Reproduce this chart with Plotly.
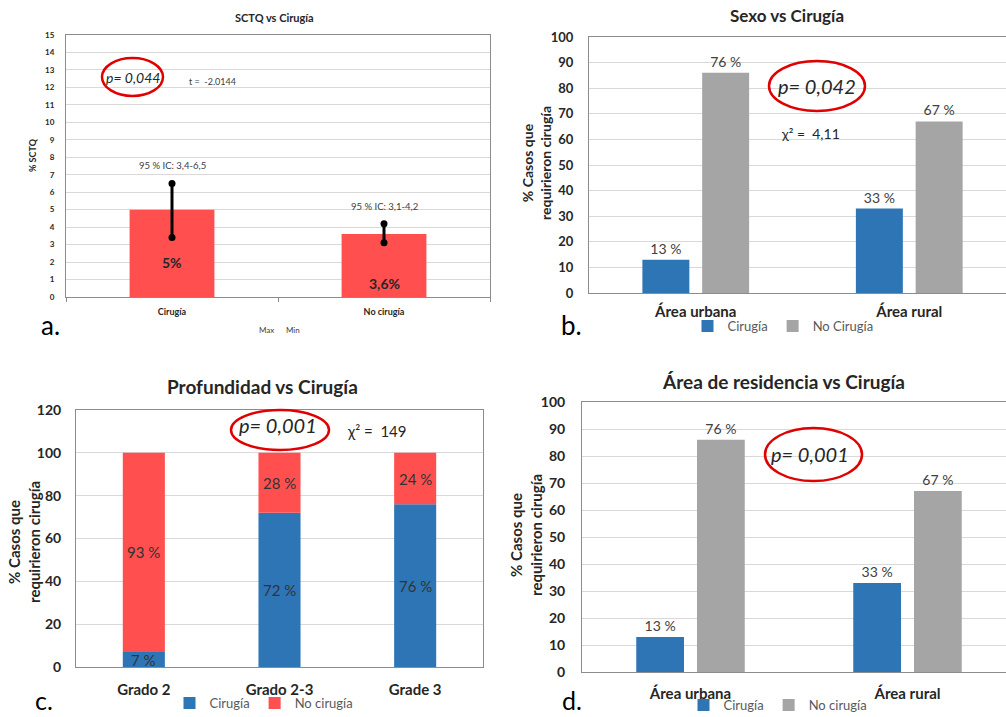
import plotly.graph_objects as go

W, H = 1006, 717
FONT = "Lato"
RED = "#FF4F4F"
BLUE = "#2E75B6"
GRAY = "#A5A5A5"
DARK = "#262626"
TXT = "#404040"
ELL = "#E00000"

# ---------------- data ----------------
# Panel a
a_categories = ["Cirugía", "No cirugía"]
a_values = [5.0, 3.6]
a_ci_low = [3.4, 3.1]
a_ci_high = [6.5, 4.2]
a_value_labels = ["5%", "3,6%"]
a_ci_labels = ["95 % IC: 3,4-6,5", "95 % IC: 3,1-4,2"]

# Panel b
b_categories = ["Área urbana", "Área rural"]
b_cirugia = [13, 33]
b_no_cirugia = [86, 67]
b_cirugia_labels = ["13 %", "33 %"]
b_no_cirugia_labels = ["76 %", "67 %"]

# Panel c
c_categories = ["Grado 2", "Grado 2-3", "Grade 3"]
c_cirugia = [7, 72, 76]
c_no_cirugia = [93, 28, 24]
c_cirugia_labels = ["7 %", "72 %", "76 %"]
c_no_cirugia_labels = ["93 %", "28 %", "24 %"]

# Panel d
d_categories = ["Área urbana", "Área rural"]
d_cirugia = [13, 33]
d_no_cirugia = [86, 67]
d_cirugia_labels = ["13 %", "33 %"]
d_no_cirugia_labels = ["76 %", "67 %"]


def px(x):
    return x / W


def py(y):
    return 1 - y / H


fig = go.Figure()

# ---------------- panel a ----------------
fig.add_trace(go.Bar(x=a_categories, y=a_values, width=0.4, marker=dict(color=RED, line_width=0),
                     xaxis="x", yaxis="y", showlegend=False, hoverinfo="skip"))
for cat, lo, hi in zip(a_categories, a_ci_low, a_ci_high):
    fig.add_trace(go.Scatter(x=[cat, cat], y=[lo, hi], mode="lines+markers",
                             line=dict(color="black", width=3), marker=dict(color="black", size=7),
                             xaxis="x", yaxis="y", showlegend=False, hoverinfo="skip"))

# ---------------- panel b ----------------
fig.add_trace(go.Bar(x=b_categories, y=b_cirugia, width=0.22, offset=-0.25, name="Cirugía",
                     marker=dict(color=BLUE, line_width=0), text=b_cirugia_labels, textposition="outside",
                     textfont=dict(size=14, color=TXT, family=FONT), cliponaxis=False,
                     xaxis="x2", yaxis="y2", legend="legend", hoverinfo="skip"))
fig.add_trace(go.Bar(x=b_categories, y=b_no_cirugia, width=0.22, offset=0.03, name="No Cirugía",
                     marker=dict(color=GRAY, line_width=0), text=b_no_cirugia_labels, textposition="outside",
                     textfont=dict(size=14, color=TXT, family=FONT), cliponaxis=False,
                     xaxis="x2", yaxis="y2", legend="legend", hoverinfo="skip"))

# ---------------- panel c ----------------
fig.add_trace(go.Bar(x=c_categories, y=c_cirugia, width=0.31, name="Cirugía",
                     marker=dict(color=BLUE, line_width=0),
                     xaxis="x3", yaxis="y3", legend="legend2", hoverinfo="skip"))
fig.add_trace(go.Bar(x=c_categories, y=c_no_cirugia, base=c_cirugia, width=0.31, name="No cirugía",
                     marker=dict(color=RED, line_width=0),
                     xaxis="x3", yaxis="y3", legend="legend2", hoverinfo="skip"))

# ---------------- panel d ----------------
fig.add_trace(go.Bar(x=d_categories, y=d_cirugia, width=0.22, offset=-0.25, name="Cirugía",
                     marker=dict(color=BLUE, line_width=0), text=d_cirugia_labels, textposition="outside",
                     textfont=dict(size=14, color=TXT, family=FONT), cliponaxis=False,
                     xaxis="x4", yaxis="y4", legend="legend3", hoverinfo="skip"))
fig.add_trace(go.Bar(x=d_categories, y=d_no_cirugia, width=0.22, offset=0.03, name="No cirugía",
                     marker=dict(color=GRAY, line_width=0), text=d_no_cirugia_labels, textposition="outside",
                     textfont=dict(size=14, color=TXT, family=FONT), cliponaxis=False,
                     xaxis="x4", yaxis="y4", legend="legend3", hoverinfo="skip"))

GRID = "#D9D9D9"
LINE = "#8C8C8C"


def yax(dom, rng, dtick, size, standoff):
    return dict(domain=[py(dom[1]), py(dom[0])], range=rng, dtick=dtick, showgrid=True, gridcolor=GRID,
                gridwidth=1, zeroline=False, showline=True, linecolor=LINE, linewidth=1,
                tickfont=dict(family=FONT, size=size, color=DARK, weight="bold"),
                ticks="", ticklabelstandoff=standoff, fixedrange=True, automargin=False)


def xax(dom, rng, size, standoff, anchor, mirror):
    return dict(domain=[px(dom[0]), min(px(dom[1]), 1)], range=rng, type="category", anchor=anchor,
                showgrid=False, zeroline=False, showline=True, linecolor=LINE, linewidth=1, mirror=mirror,
                tickfont=dict(family=FONT, size=size, color=DARK, weight="bold"),
                ticks="", ticklabelstandoff=standoff, fixedrange=True, automargin=False)


annotations = []
shapes = []


def note(text, x, y, size, color=DARK, bold=False, italic=False, angle=0, xanchor="center", yanchor="middle"):
    annotations.append(dict(text=text, x=px(x), y=py(y), xref="paper", yref="paper", showarrow=False,
                            xanchor=xanchor, yanchor=yanchor, textangle=angle,
                            font=dict(family=FONT, size=size, color=color,
                                      weight="bold" if bold else "normal",
                                      style="italic" if italic else "normal")))


def ellipse(x0, y0, x1, y1):
    shapes.append(dict(type="circle", xref="paper", yref="paper", x0=px(x0), x1=px(x1), y0=py(y1), y1=py(y0),
                       line=dict(color=ELL, width=2.5), fillcolor="rgba(0,0,0,0)", layer="above"))


# panel a annotations
for cat, hi, lab in zip(a_categories, a_ci_high, a_ci_labels):
    annotations.append(dict(text=lab, x=cat, y=hi + 1, xref="x", yref="y", showarrow=False,
                            font=dict(family=FONT, size=9.5, color=TXT)))
for cat, yv, lab in zip(a_categories, [2.0, 0.75], a_value_labels):
    annotations.append(dict(text=lab, x=cat, y=yv, xref="x", yref="y", showarrow=False,
                            font=dict(family=FONT, size=14, color=DARK, weight="bold")))
note("SCTQ vs Cirugía", 274, 18, 11, bold=True)
note("% SCTQ", 32, 155, 9, bold=True, angle=-90)
note("p= 0,044", 133, 78, 14, color=DARK, italic=True)
ellipse(102, 58, 163, 96)
note("t =  -2.0144", 212, 82, 9, color=TXT)
note("Max", 266, 330, 8, color=TXT)
note("Min", 293, 330, 8, color=TXT)
note("a.", 50, 325, 26, color="black")

# panel b annotations
note("Sexo vs Cirugía", 787, 16, 17, bold=True)
note("% Casos que<br>requirieron cirugía", 536, 163, 14, bold=True, angle=-90)
note("p= 0,042", 817, 86, 20, color=DARK, italic=True)
ellipse(769, 61, 865, 111)
note("χ² =  4,11", 810, 133, 14, color=DARK)
note("b.", 571, 325, 26, color="black")

# panel c annotations
for cat, v1, v2, l1, l2 in zip(c_categories, c_cirugia, c_no_cirugia, c_cirugia_labels, c_no_cirugia_labels):
    annotations.append(dict(text=l1, x=cat, y=v1 / 2, xref="x3", yref="y3", showarrow=False,
                            font=dict(family=FONT, size=15, color="#333333")))
    annotations.append(dict(text=l2, x=cat, y=v1 + v2 / 2, xref="x3", yref="y3", showarrow=False,
                            font=dict(family=FONT, size=15, color="#333333")))
note("Profundidad vs Cirugía", 262, 386, 19, bold=True)
note("% Casos que<br>requirieron cirugía", 24, 542, 15, bold=True, angle=-90)
note("p= 0,001", 278, 425, 20, color=DARK, italic=True)
ellipse(231, 410, 329, 450)
note("χ² =  149", 377, 431, 15, color=DARK)
note("c.", 44, 717, 25, color="black", yanchor="bottom")

# panel d annotations
note("Área de residencia vs Cirugía", 783, 381, 19, bold=True)
note("% Casos que<br>requirieron cirugía", 526, 535, 15, bold=True, angle=-90)
note("p= 0,001", 810, 454, 20, color=DARK, italic=True)
ellipse(765, 428, 862, 481)
note("d.", 572, 717, 25, color="black", yanchor="bottom")

legend_common = dict(orientation="h", xanchor="center", yanchor="middle", bgcolor="rgba(0,0,0,0)",
                     font=dict(family=FONT, size=13, color="#595959"), itemwidth=30, tracegroupgap=0,
                     itemclick=False, itemdoubleclick=False)

fig.update_layout(
    width=W, height=H, margin=dict(l=0, r=0, t=0, b=0, pad=0, autoexpand=False),
    paper_bgcolor="white", plot_bgcolor="white",
    barmode="overlay",
    font=dict(family=FONT, color=DARK),
    # panel a
    xaxis=dict(**xax([66, 490], [-0.5, 1.5], 9, 6, "y", True), tickson="boundaries"),
    yaxis=dict(**yax([35, 297], [0, 15], 1, 8, 9), anchor="x", mirror=True),
    # panel b
    xaxis2=xax([589, 1006], [-0.5, 1.5 - 10 / 213.5], 15, 5, "y2", True),
    yaxis2=dict(**yax([37, 293], [0, 100], 10, 13, 12), anchor="x2"),
    # panel c
    xaxis3=xax([76, 483], [-0.5, 2.5], 15, 9, "y3", True),
    yaxis3=dict(**yax([410, 667], [0, 120], 20, 14, 11), anchor="x3", mirror=True),
    # panel d
    xaxis4=xax([582, 1006], [-0.5, 1.5 - 10 / 217], 15, 8, "y4", True),
    yaxis4=dict(**yax([402, 672], [0, 100], 10, 14, 13), anchor="x4"),
    legend=dict(**legend_common, x=px(783), y=py(326)),
    legend2=dict(**legend_common, x=px(264), y=py(703)),
    legend3=dict(**legend_common, x=px(778), y=py(705)),
    annotations=annotations,
    shapes=shapes,
)
fig.update_xaxes(ticks="outside", ticklen=4, tickcolor=LINE, selector=dict(anchor="y"))

fig.write_html("out.html", config={"displayModeBar": False},
               post_script="document.body.style.margin='0';document.body.style.overflow='hidden';")
